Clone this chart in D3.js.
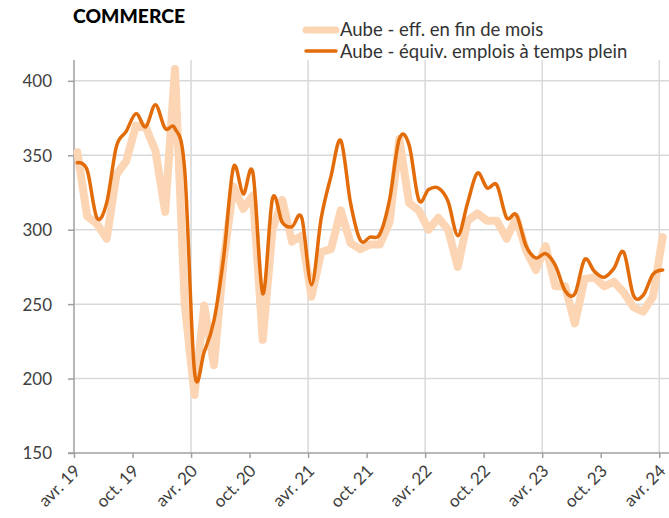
<!DOCTYPE html>
<html>
<head>
<meta charset="utf-8">
<script src="https://cdn.jsdelivr.net/npm/d3@7"></script>
<style>
  body { margin: 0; background: #fff; }
  text { font-family: Lato, "Open Sans", sans-serif; }
</style>
</head>
<body>
<svg id="chart" width="669" height="518"></svg>
<script>
// Months from avr. 19 to avr. 24 (index 0..60)
const monthIndex = d3.range(61);

// Aube - eff. en fin de mois
const effFinMois = [352, 309, 304, 294, 337, 346, 370, 369, 353, 312,
  408, 250, 189, 249, 209, 280, 329, 314, 323, 226,
  300, 320, 292, 296, 255, 285, 287, 313, 291, 287,
  290, 290, 305, 361, 318, 313, 300, 308, 300, 275,
  306, 311, 306, 306, 294, 308, 286, 273, 289, 262,
  262, 237, 267, 268, 262, 265, 258, 248, 245, 255, 295];

// Aube - équiv. emplois à temps plein
const equivETP = [345, 340, 308, 318, 356, 366, 378, 369, 384, 368,
  368, 340, 205, 218, 239, 282, 342, 324, 338, 257,
  321, 305, 302, 308, 263, 308, 336, 360, 318, 293,
  295, 297, 320, 361, 357, 320, 327, 328, 319, 296,
  318, 338, 328, 330, 308, 310, 289, 281, 284, 276,
  259, 257, 280, 272, 268, 274, 285, 256, 256, 270, 273];

const xTickValues = [0, 6, 12, 18, 24, 30, 36, 42, 48, 54, 60];
const xTickLabels = ["avr. 19", "oct. 19", "avr. 20", "oct. 20", "avr. 21", "oct. 21",
  "avr. 22", "oct. 22", "avr. 23", "oct. 23", "avr. 24"];
const yTicks = [150, 200, 250, 300, 350, 400];
const seriesNames = ["Aube - eff. en fin de mois", "Aube - équiv. emplois à temps plein"];

const lightColor = "#fcd5b4";
const darkColor = "#e36c0a";

let svg = d3.select("#chart");

// scales
let x = d3.scaleLinear().domain([0, 61]).range([74, 669]);
let y = d3.scaleLinear().domain([150, 414]).range([453, 60]);
const offset = 0.35; // points sit a little after the month tick

// horizontal gridlines
svg.append("g")
  .selectAll("line")
  .data(yTicks.slice(1))
  .join("line")
    .attr("x1", 74).attr("x2", 669)
    .attr("y1", d => y(d)).attr("y2", d => y(d))
    .attr("stroke", "#d9d9d9").attr("stroke-width", 1.5);

// vertical gridlines (yearly)
svg.append("g")
  .selectAll("line")
  .data(xTickValues.filter(d => d % 12 === 0 && d > 0))
  .join("line")
    .attr("x1", d => x(d)).attr("x2", d => x(d))
    .attr("y1", 60).attr("y2", 453)
    .attr("stroke", "#d9d9d9").attr("stroke-width", 1.5);

// y axis
let yAxis = svg.append("g")
  .attr("transform", "translate(74,0)")
  .call(d3.axisLeft(y).tickValues(yTicks).tickSize(6).tickPadding(16));
yAxis.select(".domain").attr("stroke", "#a0a0a0").attr("stroke-width", 1.5).attr("d", "M-6,453H0V60");
yAxis.selectAll(".tick line").attr("stroke", "#a0a0a0").attr("stroke-width", 1.5);
yAxis.selectAll(".tick text").attr("fill", "#404040").style("font-size", "17px").attr("dy", "0.35em");

// x axis
let xAxis = svg.append("g")
  .attr("transform", "translate(0,453)")
  .call(d3.axisBottom(x).tickValues(xTickValues).tickSize(5)
    .tickFormat((d, i) => xTickLabels[i]));
xAxis.select(".domain").attr("stroke", "#a0a0a0").attr("stroke-width", 1.5).attr("d", "M74,0H669");
xAxis.selectAll(".tick line").attr("stroke", "#a0a0a0").attr("stroke-width", 1.5);
xAxis.selectAll(".tick text")
  .attr("fill", "#404040")
  .style("font-size", "17px")
  .attr("text-anchor", "end")
  .attr("transform", "translate(7,19) rotate(-45)")
  .attr("dy", 0)
  .attr("y", 0)
  .attr("x", 0);

// lines
let lightLine = d3.line()
  .x((d, i) => x(monthIndex[i] + offset))
  .y(d => y(d));
let darkLine = d3.line()
  .x((d, i) => x(monthIndex[i] + offset))
  .y(d => y(d))
  .curve(d3.curveCardinal.tension(0));

svg.append("path")
  .datum(effFinMois)
  .attr("fill", "none")
  .attr("stroke", lightColor)
  .attr("stroke-width", 8)
  .attr("stroke-linejoin", "round")
  .attr("stroke-linecap", "round")
  .attr("d", lightLine);

svg.append("path")
  .datum(equivETP)
  .attr("fill", "none")
  .attr("stroke", darkColor)
  .attr("stroke-width", 3.5)
  .attr("stroke-linejoin", "round")
  .attr("stroke-linecap", "round")
  .attr("d", darkLine);

// title
svg.append("text")
  .attr("x", 73).attr("y", 23)
  .style("font-size", "18.5px")
  .style("font-weight", 900)
  .attr("fill", "#000")
  .attr("textLength", 112)
  .attr("lengthAdjust", "spacingAndGlyphs")
  .text("COMMERCE");

// legend
let legend = svg.append("g");
legend.append("line")
  .attr("x1", 306).attr("x2", 336).attr("y1", 30).attr("y2", 30)
  .attr("stroke", lightColor).attr("stroke-width", 7).attr("stroke-linecap", "round");
legend.append("line")
  .attr("x1", 306).attr("x2", 336).attr("y1", 51).attr("y2", 51)
  .attr("stroke", darkColor).attr("stroke-width", 3.5).attr("stroke-linecap", "round");
legend.selectAll("text.leg")
  .data(seriesNames)
  .join("text")
    .attr("class", "leg")
    .attr("x", 340)
    .attr("y", (d, i) => 36 + i * 22)
    .attr("fill", "#333")
    .style("font-size", "18.5px")
    .text(d => d);
</script>
</body>
</html>
